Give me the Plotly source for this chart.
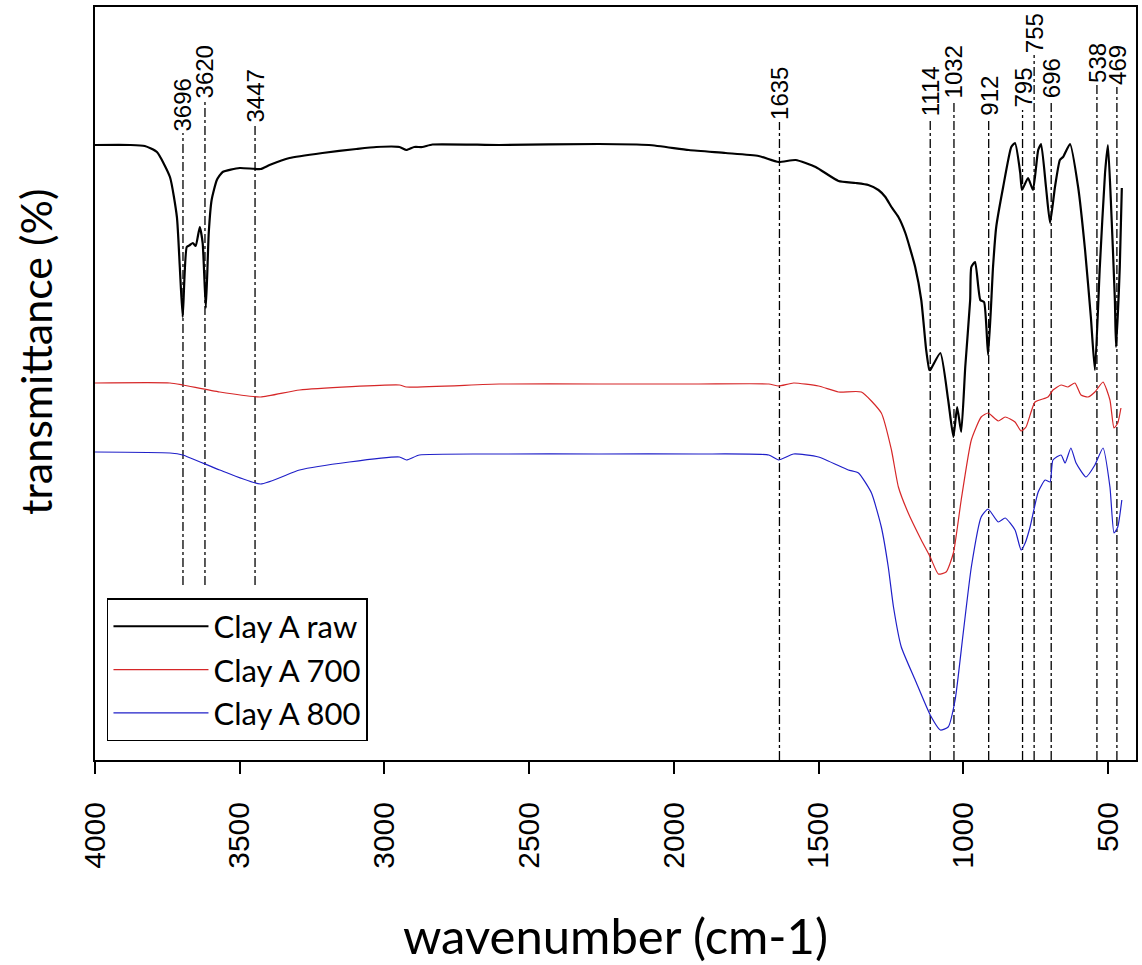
import plotly.graph_objects as go

# ---------------- data ----------------
raw_wn = [4000, 3879, 3828, 3786, 3741, 3717, 3707, 3697, 3683, 3672, 3662, 3652, 3638, 3628, 3617, 3607,
          3597, 3579, 3559, 3500, 3428, 3397, 3328, 3214, 3097, 3028, 2948, 2924, 2897, 2869, 2834, 2603,
          2259, 2086, 1948, 1821, 1707, 1638, 1579, 1510, 1431, 1372, 1328, 1293, 1269, 1248, 1224, 1200,
          1166, 1145, 1128, 1117, 1114, 1079, 1052, 1034, 1021, 1007, 993, 976, 972, 959, 941, 928, 914,
          897, 886, 862, 834, 821, 803, 797, 776, 759, 741, 731, 714, 700, 683, 666, 655, 631, 603, 579,
          559, 545, 528, 510, 500, 490, 476, 472, 459, 452]
raw_t = [615, 615, 614, 608, 583, 543, 493, 443, 513, 515, 517, 514, 533, 517, 452, 527,
         560, 580, 588, 592, 591, 595, 602, 607, 611, 613, 613, 610, 613, 613, 615.5, 615,
         616, 615, 610, 607, 604, 598, 600, 593, 579, 577, 575, 570, 563, 553, 543, 527,
         493, 460, 410, 390, 390, 407, 360, 323, 353, 328, 393, 460, 493, 498, 460, 458, 405,
         493, 533, 573, 613, 617, 587, 570, 582, 570, 610, 616, 573, 537, 573, 600, 603, 616, 573, 510,
         443, 390, 493, 587, 615, 560, 460, 413, 493, 572]

c700_wn = [4000, 3741, 3697, 3569, 3428, 3293, 2948, 2924, 2603, 2259, 1914, 1672, 1638, 1586, 1500, 1431,
           1352, 1283, 1248, 1224, 1190, 1145, 1114, 1086, 1059, 1034, 1007, 972, 938, 914, 879, 855,
           821, 800, 783, 752, 707, 690, 662, 638, 614, 593, 569, 545, 517, 493, 479, 466, 455]
c700_t = [377, 377, 375, 368, 363, 370, 375, 373, 376, 376, 376, 376, 374, 377, 374, 368,
          368, 347, 310, 273, 247, 220, 203, 186, 188, 207, 260, 320, 343, 347, 339, 343,
          338, 329, 333, 358, 363, 370, 375, 373, 377, 365, 363, 368, 378, 360, 332, 337, 352]

c800_wn = [4000, 3741, 3697, 3569, 3428, 3293, 3121, 2948, 2924, 2879, 2603, 2259, 1914, 1672, 1638, 1586,
           1500, 1397, 1362, 1317, 1283, 1259, 1241, 1214, 1166, 1114, 1079, 1052, 1028, 1000, 972, 938,
           914, 879, 855, 821, 800, 786, 769, 741, 717, 700, 690, 662, 648, 628, 610, 576, 545, 517,
           493, 479, 466, 452]
c800_t = [308, 307, 305, 290, 276, 290, 298, 303, 300, 305, 306, 306, 306, 305, 300, 306,
          303, 290, 287, 267, 233, 193, 153, 113, 80, 45, 30, 33, 60, 127, 193, 243,
          251, 238, 242, 230, 210, 217, 233, 268, 280, 278, 300, 305, 297, 312, 297, 283, 295, 312,
          273, 227, 233, 260]

series_names = ["Clay A raw", "Clay A 700", "Clay A 800"]

peak_labels = ["3696", "3620", "3447", "1635", "1114", "1032", "912", "795", "755", "696", "538", "469"]
peak_wn = [3696, 3620, 3447, 1635, 1114, 1032, 912, 795, 755, 696, 538, 469]
peak_top = [627, 660, 635, 638, 642, 660, 642, 650, 705, 660, 675, 673]
peak_bottom = [175, 175, 175, 0, 0, 0, 0, 0, 0, 0, 0, 0]

x_ticks = [4000, 3500, 3000, 2500, 2000, 1500, 1000, 500]

# ---------------- figure ----------------
fig = go.Figure()

fig.add_trace(go.Scatter(x=raw_wn, y=raw_t, mode="lines", name=series_names[0],
                         line=dict(color="black", width=2.2, shape="spline", smoothing=0.5)))
fig.add_trace(go.Scatter(x=c700_wn, y=c700_t, mode="lines", name=series_names[1],
                         line=dict(color="#d62728", width=1.2, shape="spline", smoothing=0.5)))
fig.add_trace(go.Scatter(x=c800_wn, y=c800_t, mode="lines", name=series_names[2],
                         line=dict(color="#1f1fc8", width=1.2, shape="spline", smoothing=0.5)))

for lab, wn, top, bot in zip(peak_labels, peak_wn, peak_top, peak_bottom):
    fig.add_shape(type="line", xref="x", yref="y", x0=wn, x1=wn, y0=bot, y1=top,
                  line=dict(color="black", width=1.3, dash="dashdot"), layer="below")
    fig.add_annotation(x=wn, y=top, xref="x", yref="y", text=lab, showarrow=False,
                       textangle=-90, xanchor="center", yanchor="bottom",
                       font=dict(family="Liberation Sans, Arial", size=24, color="black"))

# y-axis title (placed as rotated text, as in the original figure)
fig.add_annotation(x=-0.0566, y=0.542, xref="paper", yref="paper", text="transmittance (%)",
                   showarrow=False, textangle=-90, xanchor="center", yanchor="middle",
                   font=dict(family="Lato, Open Sans", size=43, color="black"))

fig.update_xaxes(range=[4000, 403], tickvals=x_ticks, ticktext=[str(v) for v in x_ticks],
                 ticks="outside", ticklen=12, tickwidth=1.5, tickcolor="black",
                 tickangle=-90, ticklabelstandoff=16,
                 tickfont=dict(family="Liberation Sans, Arial", size=30, color="black"),
                 showline=True, linecolor="black", linewidth=2, mirror=True,
                 showgrid=False, zeroline=False,
                 title=dict(text="wavenumber (cm-1)", standoff=52,
                            font=dict(family="Lato, Open Sans", size=49, color="black")))
fig.update_yaxes(range=[0, 753], showticklabels=False, ticks="",
                 showline=True, linecolor="black", linewidth=2, mirror=True,
                 showgrid=False, zeroline=False)

fig.update_layout(
    width=1142, height=965,
    margin=dict(l=95, r=4, t=7, b=205),
    plot_bgcolor="white", paper_bgcolor="white",
    showlegend=True,
    legend=dict(x=0.0115, y=0.215, xanchor="left", yanchor="top",
                bgcolor="white", bordercolor="black", borderwidth=1.5,
                font=dict(family="Lato, Open Sans", size=31, color="black"),
                itemwidth=95, tracegroupgap=0),
)

fig.write_html("out.html")
